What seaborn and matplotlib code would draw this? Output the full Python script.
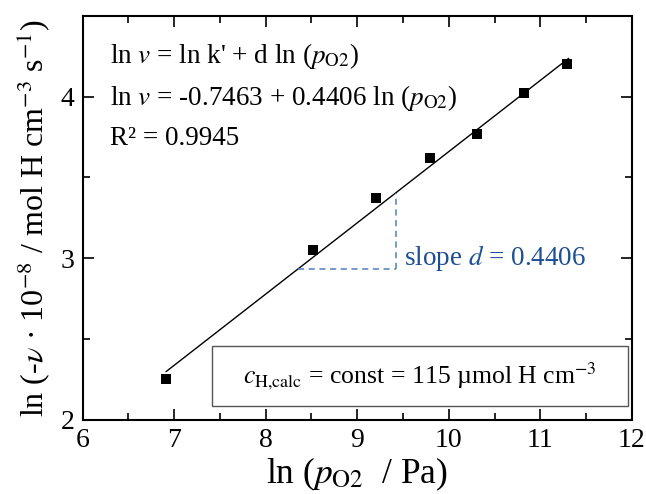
import numpy as np
import pandas as pd
import matplotlib
matplotlib.use("Agg")
import matplotlib.pyplot as plt
from matplotlib.patches import Rectangle
from matplotlib.ticker import MultipleLocator
import seaborn as sns

# measured points: ln(p_O2 / Pa) vs ln(-v * 1e-8)
ln_p = [6.91, 8.52, 9.21, 9.80, 10.31, 10.82, 11.29]
ln_v = [2.25, 3.05, 3.37, 3.62, 3.77, 4.02, 4.20]

# linear fit reported on the chart
fit_intercept = -0.7463
fit_slope = 0.4406
r_squared = 0.9945
fit_x_range = [6.91, 11.31]

# slope triangle corners (x)
tri_x = [8.35, 9.42]

c_h_calc = 115

sns.set_theme(style="ticks")
plt.rcParams['font.family'] = ['Liberation Serif', 'DejaVu Serif']
plt.rcParams['mathtext.fontset'] = 'stix'
plt.rcParams['text.color'] = 'black'
plt.rcParams['axes.labelcolor'] = 'black'

df = pd.DataFrame({"x": ln_p, "y": ln_v})
fit_x = np.array(fit_x_range)
fit_df = pd.DataFrame({"x": fit_x, "y": fit_intercept + fit_slope * fit_x})

fig = plt.figure(figsize=(6.46, 4.94), dpi=100)
ax = fig.add_axes([0.128, 0.150, 0.850, 0.818])

sns.lineplot(data=fit_df, x="x", y="y", ax=ax, color="black", linewidth=1.0)
sns.scatterplot(data=df, x="x", y="y", ax=ax, marker="s", s=45, color="black",
                edgecolor="black", linewidth=0, zorder=3)

# slope triangle
blue_dash = "#4f7fbf"
y_lo = fit_intercept + fit_slope * tri_x[0]
y_hi = fit_intercept + fit_slope * tri_x[1]
ax.plot(tri_x, [y_lo, y_lo], ls=(0, (4, 3)), color=blue_dash, lw=1.1)
ax.plot([tri_x[1], tri_x[1]], [y_lo, y_hi], ls=(0, (4, 3)), color=blue_dash, lw=1.1)
ax.text(tri_x[1] + 0.09, 3.0, f"slope $d$ = {fit_slope}", color="#1d4f94",
        fontsize=19.5, va="center", ha="left")

# equations
eq_size = 19.5
ax.text(6.3, 4.25, "ln $v$ = ln k' + d ln ($p_{\\mathrm{O2}}$)", fontsize=eq_size, va="center")
ax.text(6.3, 3.99, f"ln $v$ = {fit_intercept} + {fit_slope} ln ($p_{{\\mathrm{{O2}}}}$)",
        fontsize=eq_size, va="center")
ax.text(6.3, 3.74, f"R² = {r_squared}", fontsize=eq_size, va="center")

# condition box
ax.add_patch(Rectangle((7.41, 2.086), 4.55, 0.371, fill=False, edgecolor="#555555",
                       linewidth=1.0, zorder=2))
ax.text(9.685, 2.27, f"$c_{{\\mathrm{{H{{,}}calc}}}}$ = const = {c_h_calc} µmol H cm$^{{-3}}$",
        fontsize=18.5, ha="center", va="center")

ax.set_xlim(6, 12)
ax.set_ylim(2, 4.5)
ax.xaxis.set_major_locator(MultipleLocator(1))
ax.xaxis.set_minor_locator(MultipleLocator(0.5))
ax.yaxis.set_major_locator(MultipleLocator(1))
ax.yaxis.set_minor_locator(MultipleLocator(0.5))
ax.tick_params(which="both", direction="in", top=True, right=True, width=1.2,
               labelsize=20, colors="black")
ax.tick_params(which="major", length=8, pad=6)
ax.tick_params(which="minor", length=5)
for sp in ax.spines.values():
    sp.set_linewidth(1.5)
    sp.set_color("black")

ax.set_xlabel("ln ($p_{\\mathrm{O2}}$  / Pa)", fontsize=25.5, labelpad=2)
ax.set_ylabel("ln (-$\\nu$ · 10$^{-8}$ / mol H cm$^{-3}$ s$^{-1}$)", fontsize=23, labelpad=6)

fig.savefig("out.png", dpi=100)
